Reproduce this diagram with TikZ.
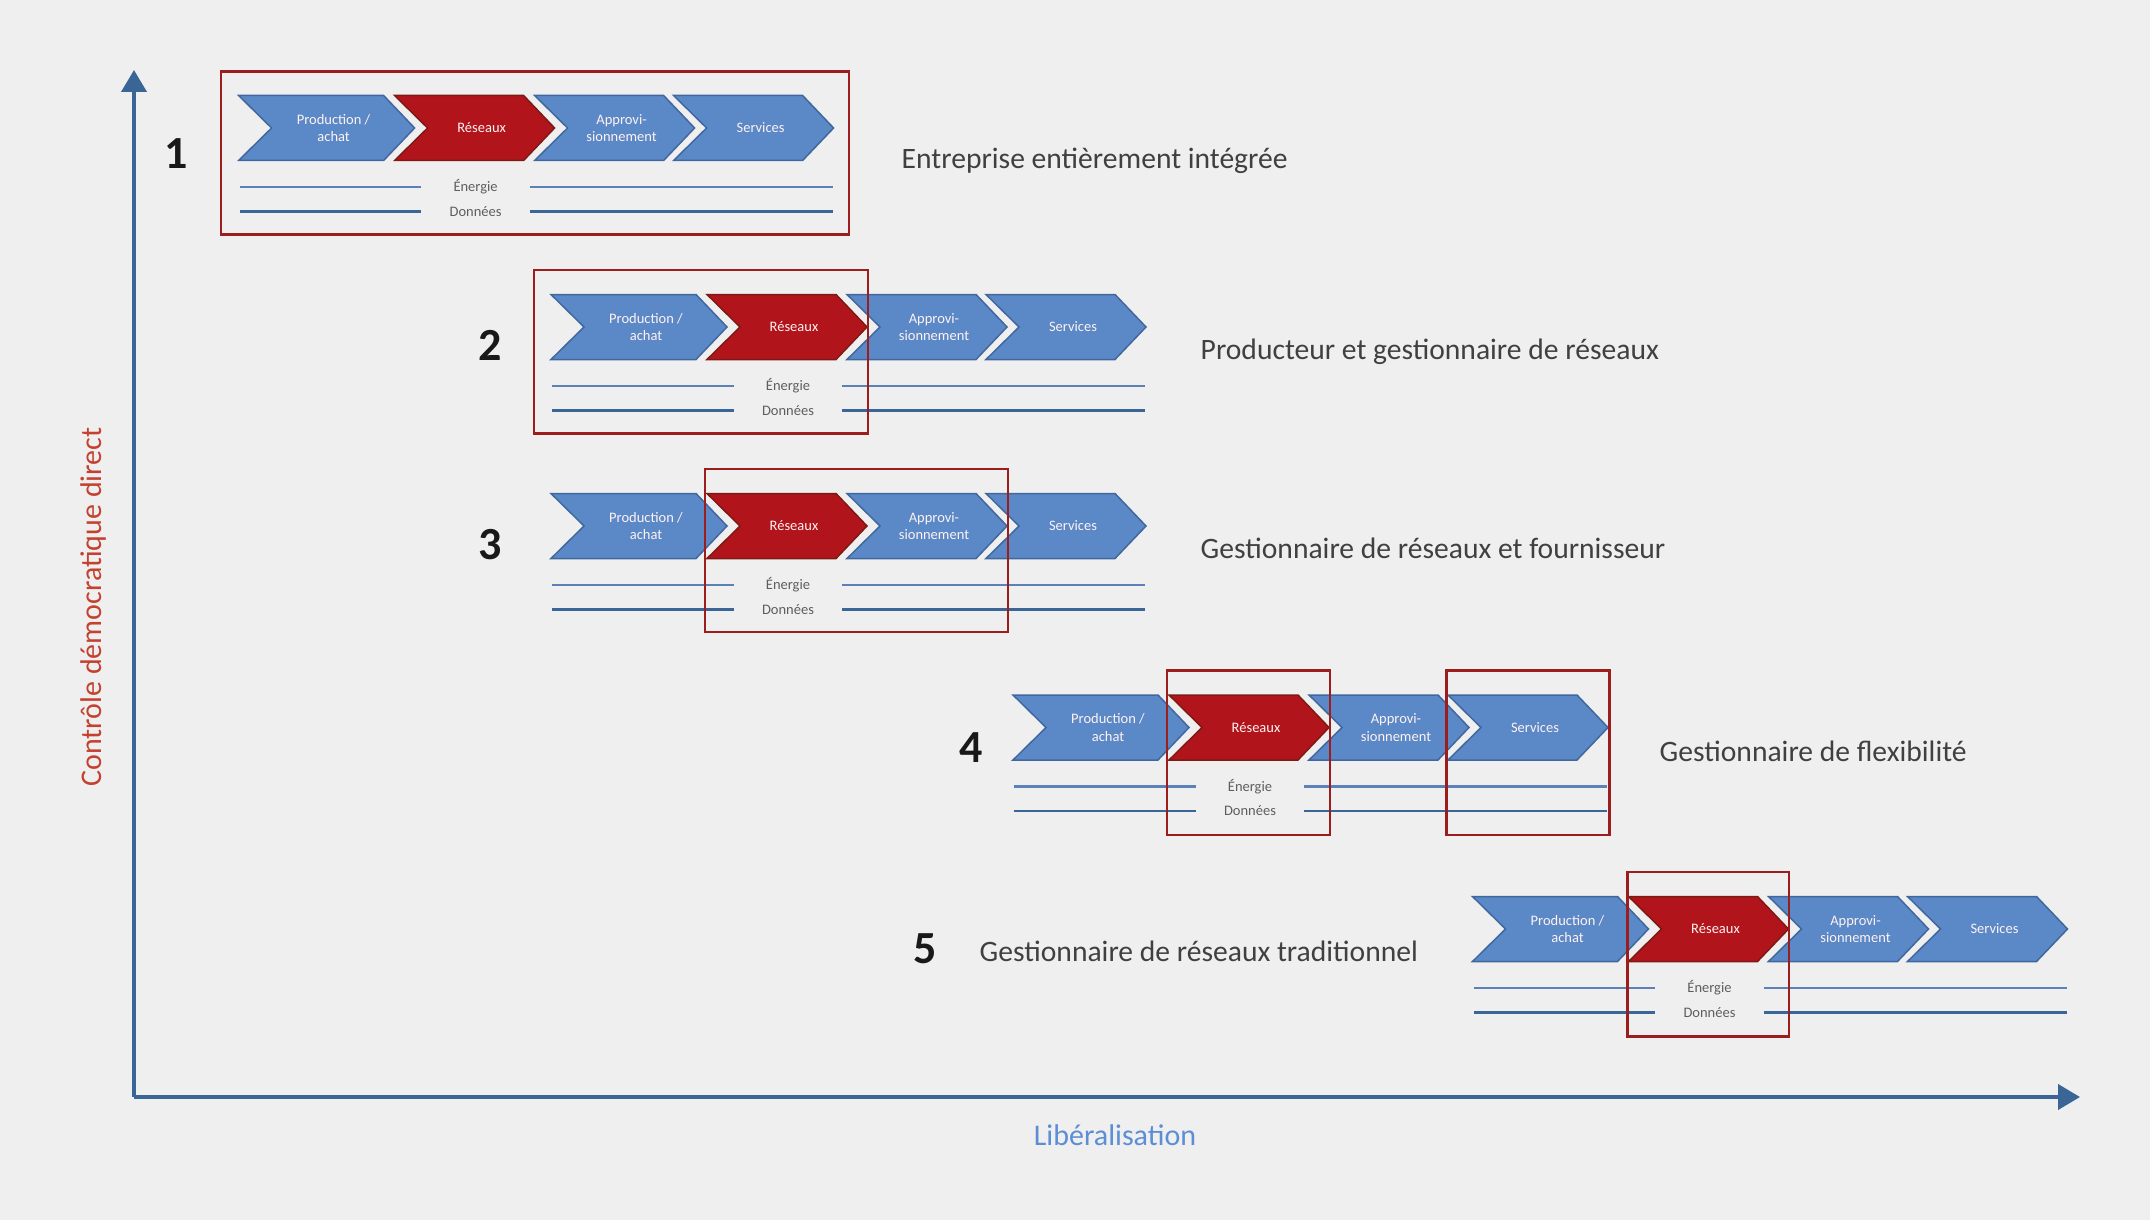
\documentclass[tikz,border=0pt]{standalone}
\usepackage{fontspec}
\setmainfont{Carlito}
\usetikzlibrary{arrows.meta,positioning,calc}
\tikzset{every picture/.style={line width=0.75pt}}

\definecolor{bgcol}{HTML}{EFEFEF}
\definecolor{chevfill}{HTML}{5B88C6}
\definecolor{chevline}{HTML}{41689E}
\definecolor{redfill}{HTML}{B1141B}
\definecolor{redline}{HTML}{7E1A14}
\definecolor{framered}{HTML}{9B1D1D}
\definecolor{axisblue}{HTML}{3A6597}
\definecolor{lineblue}{HTML}{5C81B8}
\definecolor{textgray}{HTML}{5E5E5E}
\definecolor{ylabred}{HTML}{C4412F}
\definecolor{xlabblue}{HTML}{5C8ED6}

\tikzset{
  chevblue/.style={fill=chevfill,draw=chevline,line width=1.5pt,line join=miter},
  chevred/.style={fill=redfill,draw=redline,line width=1.5pt,line join=miter},
  chevtext/.style={text=white!95!red,align=center,inner sep=0pt,font=\fontsize{14.5}{17.5}\selectfont},
  flowtext/.style={text=textgray,minimum width=108pt,inner sep=0pt,font=\fontsize{14.5}{17}\selectfont},
  energyline/.style={draw=lineblue,line width=2.5pt},
  dataline/.style={draw=axisblue,line width=2.5pt},
  framebox/.style={draw=framered,line width=2.5pt},
  rownum/.style={anchor=base,text=black!90,font=\bfseries\fontsize{46}{50}\selectfont},
  rowtitle/.style={anchor=base west,text=black!75,font=\fontsize{29.6}{34}\selectfont},
  axisline/.style={draw=axisblue,line width=4pt,-{Triangle[length=22pt,width=25pt]}}
}

% one chevron: name, left x, centre y, width, style, text
\newcommand{\chevron}[6]{%
  \draw[#5] (#2,#3-32.5) -- (#2+#4-31,#3-32.5) -- (#2+#4,#3)
    -- (#2+#4-31,#3+32.5) -- (#2,#3+32.5) -- (#2+33,#3) -- cycle;
  \node[chevtext] (#1) at (#2+#4/2+7,#3) {#6};
}

% one value chain with its two flows: left x, centre y, prefix
\newcommand{\chainrow}[3]{%
  \chevron{#3-prod}{#1}{#2}{176}{chevblue}{Production /\\achat}
  \chevron{#3-net}{#1+156}{#2}{160}{chevred}{Réseaux}
  \chevron{#3-supp}{#1+296}{#2}{160}{chevblue}{Approvi-\\sionnement}
  \chevron{#3-serv}{#1+435}{#2}{160}{chevblue}{Services}
  \node[flowtext] (#3-en) at (#1+237,#2+59) {Énergie};
  \node[flowtext] (#3-da) at (#1+237,#2+83.5) {Données};
  \coordinate (#3-ena) at (#1+1,#2+59);
  \coordinate (#3-enb) at (#1+594,#2+59);
  \coordinate (#3-daa) at (#1+1,#2+83.5);
  \coordinate (#3-dab) at (#1+594,#2+83.5);
  \draw[energyline] (#3-ena) -- (#3-en.west);
  \draw[energyline] (#3-en.east) -- (#3-enb);
  \draw[dataline] (#3-daa) -- (#3-da.west);
  \draw[dataline] (#3-da.east) -- (#3-dab);
}

\begin{document}
\begin{tikzpicture}[x=1pt,y=-1pt]
    % Background
    \fill[bgcol] (0,0) rectangle (2150,1220);

    % Axes
    \coordinate (origin) at (134,1097);
    \coordinate (ytop) at (134,70);
    \coordinate (xend) at (2080,1097);
    \draw[axisline] (origin) -- (ytop);
    \draw[axisline] (origin) -- (xend);
    \node[rotate=90,anchor=base,text=ylabred,font=\fontsize{30}{34}\selectfont]
        (ylab) at (101,607) {Contrôle démocratique direct};
    \node[anchor=base,text=xlabblue,font=\fontsize{30}{34}\selectfont]
        (xlab) at (1115,1145) {Libéralisation};

    % 1 - fully integrated
    \chainrow{238.6}{128}{r1}
    \draw[framebox] (221,71.5) rectangle (849,234.5);
    \node[rownum] (n1) at (176.5,168) {1};
    \node[rowtitle] (t1) at (898,168.5) {Entreprise entièrement intégrée};

    % 2 - producer and network operator
    \chainrow{551}{327}{r2}
    \draw[framebox] (534,270) rectangle (868,433.5);
    \node[rownum] (n2) at (490,360) {2};
    \node[rowtitle] (t2) at (1197,359) {Producteur et gestionnaire de réseaux};

    % 3 - network operator and supplier
    \chainrow{551}{526}{r3}
    \draw[framebox] (705,469) rectangle (1008,632);
    \node[rownum] (n3) at (490,559) {3};
    \node[rowtitle] (t3) at (1197,558) {Gestionnaire de réseaux et fournisseur};

    % 4 - flexibility operator
    \chainrow{1013}{727.5}{r4}
    \draw[framebox] (1167,670.5) rectangle (1330,835);
    \draw[framebox] (1446.5,670.5) rectangle (1609.5,835);
    \node[rownum] (n4) at (971,762) {4};
    \node[rowtitle] (t4) at (1656,761) {Gestionnaire de flexibilité};

    % 5 - traditional network operator
    \chainrow{1472.5}{929}{r5}
    \draw[framebox] (1627.5,872) rectangle (1789,1036.5);
    \node[rownum] (n5) at (925,963) {5};
    \node[rowtitle] (t5) at (976,961) {Gestionnaire de réseaux traditionnel};
\end{tikzpicture}
\end{document}
